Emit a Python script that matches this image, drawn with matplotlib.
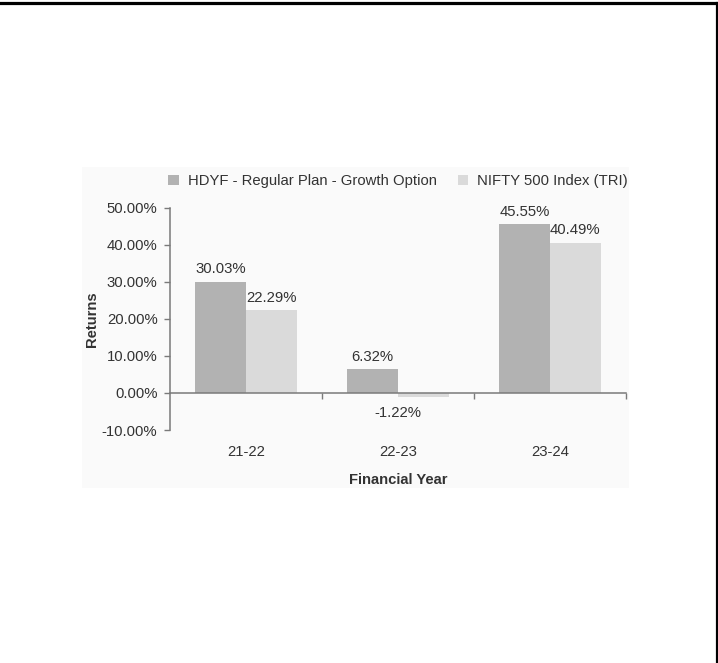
import matplotlib
matplotlib.use("Agg")
import matplotlib.pyplot as plt
import matplotlib.transforms as mtransforms
from matplotlib.patches import Rectangle
from matplotlib.lines import Line2D
import numpy as np

# Data
years = ["21-22", "22-23", "23-24"]
fund_returns = [30.03, 6.32, 45.55]
index_returns = [22.29, -1.22, 40.49]
series_names = ["HDYF - Regular Plan - Growth Option", "NIFTY 500 Index (TRI)"]
y_ticks = [-10, 0, 10, 20, 30, 40, 50]

fund_color = "#b2b2b2"
index_color = "#dadada"
axis_color = "#7a7a7a"
text_color = "#333333"

plt.rcParams["font.family"] = ["Liberation Sans", "DejaVu Sans"]
fs = 10.7
fs_bold = 10.6

W, H = 718, 663
fig = plt.figure(figsize=(W / 100, H / 100), dpi=100)

# light backdrop of the pasted chart image
fig.patches.append(Rectangle((82 / W, 1 - 488 / H), (629 - 82) / W, (488 - 167) / H,
                             transform=fig.transFigure, facecolor="#fafafa",
                             edgecolor="none", zorder=-1))
# page border lines (top and right)
fig.lines.append(Line2D([0, 716.5 / W], [1 - 2.5 / H, 1 - 2.5 / H], transform=fig.transFigure,
                        color="black", lw=2.3))
fig.lines.append(Line2D([716.5 / W, 716.5 / W], [1 - 2.5 / H, 0], transform=fig.transFigure,
                        color="black", lw=2.3))

left, right = 170 / W, 626 / W
bottom, top = 1 - 430 / H, 1 - 207.5 / H
ax = fig.add_axes([left, bottom, right - left, top - bottom])
ax.set_facecolor("none")

x = np.arange(len(years))
bw = 1 / 3
b1 = ax.bar(x - bw / 2, fund_returns, bw, color=fund_color, label=series_names[0], zorder=2)
b2 = ax.bar(x + bw / 2, index_returns, bw, color=index_color, label=series_names[1], zorder=2)

ax.set_xlim(-0.5, len(years) - 0.5)
ax.set_ylim(-10, 50)
ax.set_yticks(y_ticks)
ax.set_yticklabels([f"{v:.2f}%" for v in y_ticks])

for s in ["top", "right"]:
    ax.spines[s].set_visible(False)
ax.spines["left"].set_color(axis_color)
ax.spines["left"].set_linewidth(1.1)
ax.spines["bottom"].set_position(("data", 0))
ax.spines["bottom"].set_color(axis_color)
ax.spines["bottom"].set_linewidth(1.1)
ax.spines["bottom"].set_zorder(3)

ax.tick_params(axis="y", direction="out", length=4, width=1.0, color=axis_color,
               labelsize=fs, labelcolor=text_color, pad=5)
ax.set_xticks(x + 0.5)
ax.tick_params(axis="x", direction="out", length=4, width=1.0, color=axis_color,
               labelbottom=False)

# category labels sit below the plot area
trans = mtransforms.blended_transform_factory(ax.transData, ax.transAxes)
for i, lab in enumerate(years):
    ax.text(i, -0.099, lab, transform=trans, ha="center", va="center",
            fontsize=fs, color=text_color)

# value labels
px = (top - bottom) * H / 60.0  # pixels per percent
for i in range(len(years)):
    for xpos, v in [(i - bw / 2, fund_returns[i]), (i + bw / 2, index_returns[i])]:
        if v >= 0:
            ax.text(xpos, v + 12.5 / px, f"{v:.2f}%", ha="center", va="center",
                    fontsize=fs, color=text_color)
        else:
            ax.text(i, v - 15.5 / px, f"{v:.2f}%", ha="center", va="center",
                    fontsize=fs, color=text_color)

ax.set_ylabel("Returns", fontsize=fs_bold, fontweight="bold", color=text_color, labelpad=2)
ax.text(0.5, -0.225, "Financial Year", transform=ax.transAxes, ha="center", va="center",
        fontsize=fs_bold, fontweight="bold", color=text_color)

ax.legend(loc="center", bbox_to_anchor=(0.5, 1.119), ncol=2, frameon=False,
          fontsize=fs, labelcolor=text_color, handlelength=0.7, handleheight=0.7,
          handletextpad=0.6, columnspacing=1.4, borderaxespad=0)

fig.savefig("out.png", dpi=100, facecolor="white")
